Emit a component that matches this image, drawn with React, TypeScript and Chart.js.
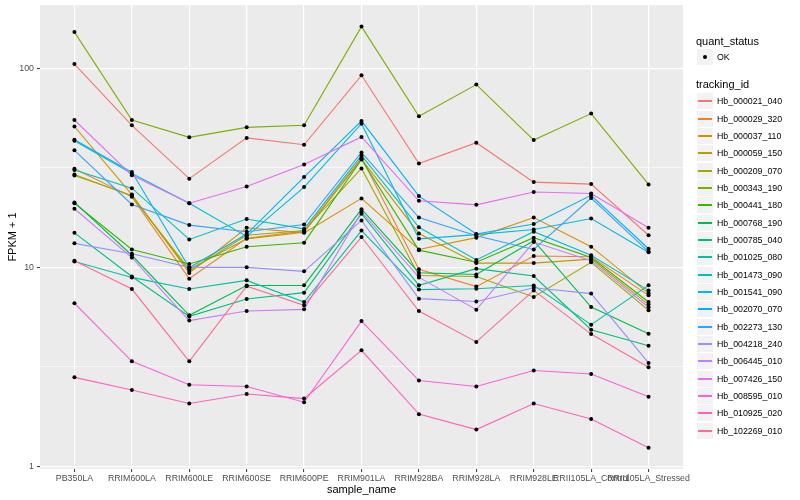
import React, { useEffect, useRef } from 'react';
import { Chart, registerables } from 'chart.js';

Chart.register(...registerables);

const FONT = "'Liberation Sans', Arial, Helvetica, sans-serif";

const categories = [
  'PB350LA', 'RRIM600LA', 'RRIM600LE', 'RRIM600SE', 'RRIM600PE', 'RRIM901LA',
  'RRIM928BA', 'RRIM928LA', 'RRIM928LE', 'RRII105LA_Control', 'RRII105LA_Stressed',
];

const trackingIds = [
  'Hb_000021_040', 'Hb_000029_320', 'Hb_000037_110', 'Hb_000059_150', 'Hb_000209_070',
  'Hb_000343_190', 'Hb_000441_180', 'Hb_000768_190', 'Hb_000785_040', 'Hb_001025_080',
  'Hb_001473_090', 'Hb_001541_090', 'Hb_002070_070', 'Hb_002273_130', 'Hb_004218_240',
  'Hb_006445_010', 'Hb_007426_150', 'Hb_008595_010', 'Hb_010925_020', 'Hb_102269_010',
];

const seriesColors = [
  '#F8766D', '#EA8331', '#D89000', '#C09B00', '#A3A500',
  '#7CAE00', '#39B600', '#00BB4E', '#00BF7D', '#00C1A3',
  '#00BFC4', '#00BAE0', '#00B0F6', '#35A2FF', '#9590FF',
  '#C77CFF', '#E76BF3', '#FA62DB', '#FF62BC', '#FF6C90',
];

// FPKM + 1 values per sample (same order as categories)
const hb000021_040 = [105, 51.7, 27.9, 44.7, 41.3, 92.2, 33.2, 42.3, 26.8, 26.2, 14.5];
const hb000029_320 = [31.3, 22.6, 8.77, 14.0, 15.2, 35.5, 9.77, 8.0, 11.4, 11.3, 7.23];
const hb000037_110 = [51, 23.2, 9.36, 15.8, 14.9, 22.2, 12.3, 14.1, 17.8, 12.7, 7.4];
const hb000059_150 = [29.3, 22.8, 9.77, 13.9, 15.0, 35.0, 14.8, 10.5, 10.5, 11.0, 6.5];
const hb000209_070 = [28.9, 23.0, 9.58, 14.5, 15.3, 31.4, 9.1, 9.0, 7.1, 10.6, 6.08];
const hb000343_190 = [152, 55, 45, 50.5, 51.7, 162, 57.4, 82.8, 43.6, 59.2, 26.1];
const hb000441_180 = [21.0, 12.3, 10.4, 12.7, 13.3, 34.8, 12.2, 10.6, 14.1, 11.2, 6.7];
const hb000768_190 = [21.2, 11.5, 5.74, 8.1, 8.12, 19.6, 9.4, 9.2, 13.6, 6.32, 4.64];
const hb000785_040 = [14.9, 9.0, 5.67, 6.93, 7.46, 18.6, 8.12, 9.85, 9.04, 4.86, 4.04];
const hb001025_080 = [10.7, 8.9, 7.78, 8.6, 6.69, 15.3, 7.73, 7.8, 8.1, 5.15, 8.12];
const hb001473_090 = [30.8, 25.0, 13.8, 17.5, 15.6, 36.5, 15.9, 10.9, 15.1, 11.5, 7.66];
const hb001541_090 = [43.3, 29.6, 21.0, 14.3, 25.3, 52.7, 13.9, 14.6, 15.5, 17.6, 11.9];
const hb002070_070 = [43.8, 30.1, 9.96, 14.7, 28.4, 54.4, 22.8, 14.7, 16.5, 23.0, 12.4];
const hb002273_130 = [38.7, 20.7, 16.3, 15.1, 16.4, 37.8, 17.8, 14.4, 12.3, 22.3, 12.0];
const hb004218_240 = [13.2, 11.7, 10.0, 10.0, 9.55, 17.2, 6.96, 6.73, 7.9, 7.38, 3.31];
const hb006445_010 = [19.7, 11.2, 5.40, 6.03, 6.15, 19.0, 8.9, 6.13, 13.4, 10.8, 6.3];
const hb007426_150 = [55, 29, 21, 25.5, 32.9, 45.2, 21.6, 20.6, 23.9, 23.5, 15.8];
const hb008595_010 = [6.6, 3.37, 2.57, 2.52, 2.10, 5.37, 2.70, 2.52, 3.03, 2.91, 2.24];
const hb010925_020 = [2.8, 2.42, 2.07, 2.31, 2.19, 3.83, 1.83, 1.53, 2.07, 1.73, 1.24];
const hb102269_010 = [10.8, 7.78, 3.37, 8.04, 6.44, 14.2, 6.03, 4.22, 7.66, 4.62, 3.15];

const seriesValues = [
  hb000021_040, hb000029_320, hb000037_110, hb000059_150, hb000209_070,
  hb000343_190, hb000441_180, hb000768_190, hb000785_040, hb001025_080,
  hb001473_090, hb001541_090, hb002070_070, hb002273_130, hb004218_240,
  hb006445_010, hb007426_150, hb008595_010, hb010925_020, hb102269_010,
];

const yMajorTicks = [1, 10, 100];
const yMinorTicks = [3.1623, 31.623];
const yMin = 0.97;
const yMax = 208;

const panelBg = {
  id: 'panelBg',
  beforeDraw(chart: any) {
    const { ctx, chartArea } = chart;
    ctx.save();
    ctx.fillStyle = '#EBEBEB';
    ctx.fillRect(chartArea.left, chartArea.top, chartArea.right - chartArea.left, chartArea.bottom - chartArea.top);
    ctx.restore();
  },
};

function isMajor(v: number) {
  return yMajorTicks.some((m) => Math.abs(m - v) < 1e-6);
}

export default function App() {
  const ref = useRef<HTMLCanvasElement>(null);

  useEffect(() => {
    if (!ref.current) return;
    const lineSets = seriesValues.map((vals, i) => ({
      type: 'line',
      label: trackingIds[i],
      data: vals.map((v, j) => ({ x: j, y: v })),
      borderColor: seriesColors[i],
      backgroundColor: seriesColors[i],
      borderWidth: 1.1,
      pointRadius: 0,
      pointHoverRadius: 0,
      fill: false,
      tension: 0,
      order: seriesValues.length - i,
    }));
    const pointSet = {
      type: 'scatter',
      label: 'OK',
      data: seriesValues.flatMap((vals) => vals.map((v, j) => ({ x: j, y: v }))),
      backgroundColor: '#000000',
      borderColor: '#000000',
      borderWidth: 0,
      pointRadius: 2,
      showLine: false,
      order: 0,
    };

    const chart = new Chart(ref.current, {
      type: 'line',
      data: { datasets: [...lineSets, pointSet] as any },
      options: {
        animation: false,
        responsive: true,
        maintainAspectRatio: false,
        layout: { padding: { left: 0, top: 5, right: 117, bottom: 0 } },
        plugins: { legend: { display: false }, tooltip: { enabled: false } },
        events: [],
        scales: {
          x: {
            type: 'linear',
            min: -0.6,
            max: 10.6,
            bounds: 'data',
            afterBuildTicks: (s: any) => {
              s.ticks = categories.map((_, i) => ({ value: i }));
            },
            afterFit: (s: any) => {
              s.height = 31;
              s.paddingLeft = 0;
              s.paddingRight = 0;
            },
            ticks: {
              autoSkip: false,
              maxRotation: 0,
              minRotation: 0,
              padding: 1,
              color: '#4D4D4D',
              font: { family: FONT, size: 8.8 },
              callback: (v: any) => categories[Math.round(Number(v))] ?? '',
            },
            grid: {
              color: '#FFFFFF',
              lineWidth: 1.2,
              drawTicks: true,
              tickLength: 3,
              tickColor: '#333333',
              tickWidth: 1,
            },
            border: { display: false },
            title: {
              display: true,
              text: 'sample_name',
              color: '#000000',
              font: { family: FONT, size: 11 },
              padding: { top: 0, bottom: 3 },
            },
          },
          y: {
            type: 'logarithmic',
            min: yMin,
            max: yMax,
            bounds: 'data',
            afterBuildTicks: (s: any) => {
              s.ticks = [...yMajorTicks, ...yMinorTicks]
                .sort((a, b) => a - b)
                .map((v) => ({ value: v, major: isMajor(v) }));
            },
            afterFit: (s: any) => {
              s.width = 40;
              s.paddingTop = 0;
              s.paddingBottom = 0;
            },
            ticks: {
              autoSkip: false,
              padding: 3,
              color: '#4D4D4D',
              font: { family: FONT, size: 8.8 },
              callback: (v: any) => (isMajor(Number(v)) ? String(Math.round(Number(v))) : ''),
            },
            grid: {
              color: '#FFFFFF',
              lineWidth: (ctx: any) => (ctx.tick && isMajor(ctx.tick.value) ? 1.2 : 0.6),
              drawTicks: true,
              tickLength: 3,
              tickColor: (ctx: any) => (ctx.tick && isMajor(ctx.tick.value) ? '#333333' : 'rgba(0,0,0,0)'),
              tickWidth: 1,
            },
            border: { display: false },
            title: {
              display: true,
              text: 'FPKM + 1',
              color: '#000000',
              font: { family: FONT, size: 11 },
              padding: { top: 6, bottom: 0 },
            },
          },
        },
      } as any,
      plugins: [panelBg],
    });
    return () => chart.destroy();
  }, []);

  const rowH = 17.33;
  const firstCenter = 101.3;

  return (
    <div style={{ position: 'fixed', left: 0, top: 0, width: 800, height: 500, background: '#FFFFFF', overflow: 'hidden' }}>
      <canvas ref={ref} style={{ position: 'absolute', left: 0, top: 0, width: 800, height: 500 }} />
      <div style={{ position: 'absolute', left: 696, top: 34, font: `11px ${FONT}`, lineHeight: '14px', color: '#000', whiteSpace: 'nowrap' }}>quant_status</div>
      <div style={{ position: 'absolute', left: 697, top: 49, width: 16, height: 16, background: '#F2F2F2' }}>
        <div style={{ position: 'absolute', left: 6, top: 6, width: 4, height: 4, borderRadius: '50%', background: '#000' }} />
      </div>
      <div style={{ position: 'absolute', left: 717, top: 50, font: `8.8px ${FONT}`, lineHeight: '14px', color: '#000', whiteSpace: 'nowrap' }}>OK</div>
      <div style={{ position: 'absolute', left: 696, top: 77, font: `11px ${FONT}`, lineHeight: '14px', color: '#000', whiteSpace: 'nowrap' }}>tracking_id</div>
      {trackingIds.map((id, i) => {
        const c = Math.round(firstCenter + rowH * i);
        return (
          <React.Fragment key={id}>
            <div style={{ position: 'absolute', left: 697, top: c - 8, width: 16, height: 16, background: '#F2F2F2' }}>
              <div style={{ position: 'absolute', left: 1, top: 7, width: 14, height: 2, background: seriesColors[i] }} />
            </div>
            <div style={{ position: 'absolute', left: 717, top: c - 7, font: `8.8px ${FONT}`, lineHeight: '14px', color: '#000', whiteSpace: 'nowrap' }}>{id}</div>
          </React.Fragment>
        );
      })}
    </div>
  );
}
